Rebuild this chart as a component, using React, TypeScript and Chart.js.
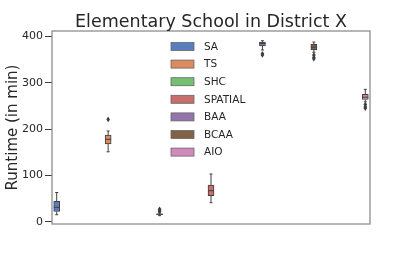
import React, { useEffect, useRef } from 'react';
import { Chart, registerables } from 'chart.js';

Chart.register(...registerables);

const categories = ['SA', 'TS', 'SHC', 'SPATIAL', 'BAA', 'BCAA', 'AIO'];
const whiskerLow = [15, 151, 13, 41, 371, 366, 259];
const quartile1 = [22, 168, 15, 56, 380, 371, 264];
const medians = [31, 178, 16, 67, 385, 377, 269];
const quartile3 = [44, 187, 17, 79, 388, 383, 275];
const whiskerHigh = [63, 196, 19, 103, 391, 388, 286];
const outliers: number[][] = [[], [221], [22, 25, 27], [], [363, 360], [360, 355, 352], [253, 248, 245]];
const colors = ['#597dbf', '#db8b5f', '#75bf71', '#c76e6e', '#9475ab', '#826246', '#d08abb'];
const yTicks = [0, 100, 200, 300, 400];

const LINE = '#3f3f3f';
const FONT = '"DejaVu Sans", sans-serif';

const boxPlugin = {
  id: 'boxParts',
  afterDatasetsDraw(chart: any) {
    const ctx = chart.ctx as CanvasRenderingContext2D;
    const ys = chart.scales.y;
    categories.forEach((_, i) => {
      const el = chart.getDatasetMeta(i).data[i];
      if (!el) return;
      const x = el.x;
      const w = el.width;
      const py = (v: number) => ys.getPixelForValue(v);
      ctx.save();
      ctx.strokeStyle = LINE;
      ctx.lineWidth = 1;
      ctx.beginPath();
      ctx.moveTo(x, py(quartile3[i]));
      ctx.lineTo(x, py(whiskerHigh[i]));
      ctx.moveTo(x, py(quartile1[i]));
      ctx.lineTo(x, py(whiskerLow[i]));
      ctx.moveTo(x - w / 4, py(whiskerHigh[i]));
      ctx.lineTo(x + w / 4, py(whiskerHigh[i]));
      ctx.moveTo(x - w / 4, py(whiskerLow[i]));
      ctx.lineTo(x + w / 4, py(whiskerLow[i]));
      ctx.moveTo(x - w / 2, py(medians[i]));
      ctx.lineTo(x + w / 2, py(medians[i]));
      ctx.stroke();
      ctx.fillStyle = LINE;
      outliers[i].forEach((v) => {
        const yy = py(v);
        ctx.beginPath();
        ctx.moveTo(x, yy - 2.8);
        ctx.lineTo(x + 1.8, yy);
        ctx.lineTo(x, yy + 2.8);
        ctx.lineTo(x - 1.8, yy);
        ctx.closePath();
        ctx.fill();
      });
      ctx.restore();
    });
  },
  afterDraw(chart: any) {
    const ctx = chart.ctx as CanvasRenderingContext2D;
    const a = chart.chartArea;
    ctx.save();
    ctx.strokeStyle = '#8a8a8a';
    ctx.lineWidth = 1.25;
    ctx.strokeRect(a.left, a.top, a.right - a.left, a.bottom - a.top);
    // title
    ctx.fillStyle = '#262626';
    ctx.font = `17.5px ${FONT}`;
    ctx.textAlign = 'center';
    ctx.textBaseline = 'alphabetic';
    ctx.fillText('Elementary School in District X', (a.left + a.right) / 2, 26.5);
    // legend
    ctx.font = `10.5px ${FONT}`;
    ctx.textAlign = 'left';
    ctx.textBaseline = 'middle';
    categories.forEach((c, i) => {
      const cy = 46.5 + i * 17.6;
      ctx.fillStyle = colors[i];
      ctx.fillRect(171, cy - 4, 23, 8);
      ctx.strokeStyle = '#666';
      ctx.lineWidth = 0.8;
      ctx.strokeRect(171, cy - 4, 23, 8);
      ctx.fillStyle = '#262626';
      ctx.fillText(c, 204, cy + 0.5);
    });
    ctx.restore();
  },
};

export default function App() {
  const ref = useRef<HTMLCanvasElement | null>(null);
  useEffect(() => {
    if (!ref.current) return;
    const datasets = categories.map((c, i) => ({
      label: c,
      data: categories.map((_, j) => (j === i ? [quartile1[i], quartile3[i]] : null)),
      backgroundColor: colors[i],
      borderColor: LINE,
      borderWidth: 1,
      borderSkipped: false,
      barThickness: 6,
      categoryPercentage: 0.8,
      barPercentage: 1,
    }));
    const chart = new Chart(ref.current, {
      type: 'bar',
      data: { labels: categories, datasets: datasets as any },
      options: {
        animation: false,
        responsive: false,
        layout: { padding: { top: 31, right: 41, bottom: 33, left: 0 } },
        plugins: { legend: { display: false }, title: { display: false }, tooltip: { enabled: false } },
        scales: {
          x: {
            type: 'category',
            offset: true,
            ticks: { display: false },
            grid: { display: false },
            border: { display: false },
            afterFit: (s: any) => { s.height = 0; },
          },
          y: {
            type: 'linear',
            min: -5,
            max: 412,
            afterBuildTicks: (s: any) => { s.ticks = yTicks.map((v) => ({ value: v })); },
            afterFit: (s: any) => { s.width = 52; },
            ticks: { color: '#262626', font: { family: FONT, size: 11 }, padding: 2 },
            grid: { display: true, drawOnChartArea: false, drawTicks: true, tickLength: 7, color: '#3a3a3a' },
            border: { display: false },
            title: { display: true, text: 'Runtime (in min)', color: '#262626', font: { family: FONT, size: 15 }, padding: { top: 4, bottom: 0 } },
          },
        },
      },
      plugins: [boxPlugin],
    } as any);
    return () => chart.destroy();
  }, []);
  return (
    <div style={{ position: 'fixed', left: 0, top: 0, width: 411, height: 257, background: '#fff' }}>
      <canvas ref={ref} width={411} height={257} style={{ display: 'block' }} />
    </div>
  );
}
